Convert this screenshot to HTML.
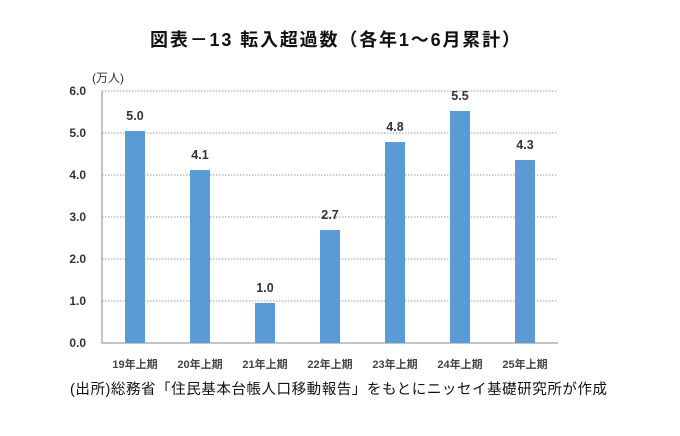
<!DOCTYPE html>
<html><head><meta charset="utf-8"><style>
body{margin:0;background:#fff;width:680px;height:431px;overflow:hidden}
text{font-family:"Liberation Sans","Noto Sans CJK JP",sans-serif}
</style></head><body>
<svg width="680" height="431" xmlns="http://www.w3.org/2000/svg">
<text x="335" y="46" text-anchor="middle" font-size="18" font-weight="bold" fill="#111" textLength="370" lengthAdjust="spacing">図表－13 転入超過数（各年1～6月累計）</text>
<text x="92" y="82" font-size="12" fill="#333">(万人)</text>
<g stroke="#999" stroke-dasharray="1.5,1.5" stroke-width="1">
<line x1="102" y1="91" x2="558" y2="91"/><line x1="102" y1="133" x2="558" y2="133"/>
<line x1="102" y1="175" x2="558" y2="175"/><line x1="102" y1="217" x2="558" y2="217"/>
<line x1="102" y1="259" x2="558" y2="259"/><line x1="102" y1="301" x2="558" y2="301"/>
</g>
<line x1="102" y1="91" x2="102" y2="343" stroke="#888"/>
<line x1="102" y1="343" x2="558" y2="343" stroke="#888"/>
<g font-size="12" font-weight="bold" fill="#333" text-anchor="end">
<text x="86" y="95">6.0</text><text x="86" y="137">5.0</text><text x="86" y="179">4.0</text>
<text x="86" y="221">3.0</text><text x="86" y="263">2.0</text><text x="86" y="305">1.0</text><text x="86" y="347">0.0</text>
</g>
<g fill="#5B9BD5">
<rect x="125" y="131" width="20" height="212"/>
<rect x="190" y="170" width="20" height="173"/>
<rect x="255" y="303" width="20" height="40"/>
<rect x="320" y="230" width="20" height="113"/>
<rect x="385" y="142" width="20" height="201"/>
<rect x="450" y="111" width="20" height="232"/>
<rect x="515" y="160" width="20" height="183"/>
</g>
<g font-size="12.5" font-weight="bold" fill="#333" text-anchor="middle">
<text x="135" y="120">5.0</text><text x="200" y="159">4.1</text><text x="265" y="292">1.0</text>
<text x="330" y="219">2.7</text><text x="395" y="131">4.8</text><text x="460" y="100">5.5</text><text x="525" y="149">4.3</text>
</g>
<g font-size="11" font-weight="bold" fill="#444" text-anchor="middle">
<text x="135" y="368">19年上期</text><text x="200" y="368">20年上期</text><text x="265" y="368">21年上期</text>
<text x="330" y="368">22年上期</text><text x="395" y="368">23年上期</text><text x="460" y="368">24年上期</text><text x="525" y="368">25年上期</text>
</g>
<text x="70" y="394" font-size="14.5" fill="#111" textLength="537" lengthAdjust="spacing">(出所)総務省「住民基本台帳人口移動報告」をもとにニッセイ基礎研究所が作成</text>
</svg>
</body></html>
